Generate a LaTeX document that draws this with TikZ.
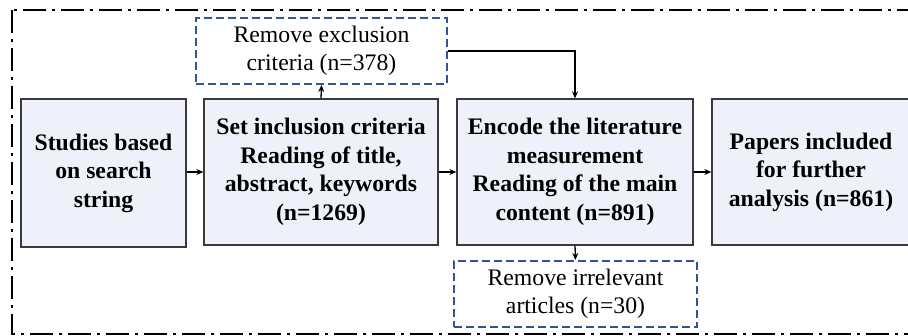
\documentclass[tikz,border=0pt]{standalone}
\usepackage{fontspec}
\setmainfont{Liberation Serif}
\usetikzlibrary{arrows.meta}
\definecolor{boxfill}{HTML}{EEF1FA}
\definecolor{boxedge}{HTML}{3A3A3A}
\definecolor{dashblue}{HTML}{2F5597}
\begin{document}
\begin{tikzpicture}[x=1pt,y=-1pt,
  txt/.style={font=\fontsize{23.7}{28.5}\selectfont, align=center, inner sep=0pt},
  stagebox/.style={txt, draw=boxedge, line width=1.3pt, fill=boxfill, font=\fontsize{23.7}{28.5}\selectfont\bfseries},
  notebox/.style={txt, draw=dashblue, line width=2pt, dash pattern=on 8pt off 4pt, fill=white},
  flow/.style={line width=1.3pt, -{Stealth[length=7pt,width=6pt]}}]
  \useasboundingbox (0,0) rectangle (908,336);
  \clip (0,0) rectangle (908,336);
  % outer frame
  \draw[line width=2pt, dash pattern=on 23pt off 6pt on 3pt off 6pt] (12,10) rectangle (940,334);
  % stages
  \node[stagebox, minimum width=165pt, minimum height=148pt] (s1) at (103.5,173) {Studies based\\on search\\string};
  \node[stagebox, minimum width=234pt, minimum height=146pt] (s2) at (321,172) {Set inclusion criteria\\Reading of title,\\abstract, keywords\\(n=1269)};
  \node[stagebox, minimum width=236pt, minimum height=146pt] (s3) at (575,172) {Encode the literature\\measurement\\Reading of the main\\content (n=891)};
  \node[stagebox, minimum width=198pt, minimum height=146pt] (s4) at (811,172) {Papers included\\for further\\analysis (n=861)};
  % removals
  \node[notebox, minimum width=251pt, minimum height=66pt] (r1) at (321.5,51) {Remove exclusion\\criteria (n=378)};
  \node[notebox, minimum width=243pt, minimum height=66pt] (r2) at (575.5,294) {Remove irrelevant\\articles (n=30)};
  \coordinate (bend) at (s3.north |- r1.east);
  % connectors
  \draw[flow] (s1.east |- s2.west) -- (s2.west);
  \draw[flow] (s2.east) -- (s3.west);
  \draw[flow] (s3.east) -- (s4.west);
  \draw[flow] (s2.north) -- (r1.south);
  \draw[flow] (r1.east) -- (bend) -- (s3.north);
  \draw[flow] (s3.south) -- (r2.north);
\end{tikzpicture}
\end{document}
